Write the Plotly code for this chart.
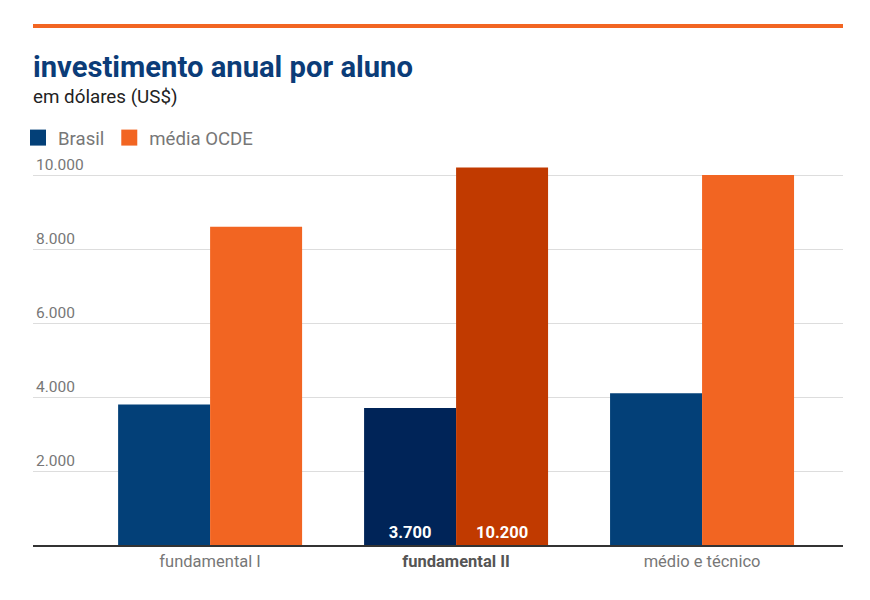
import plotly.graph_objects as go

categories = ["fundamental I", "fundamental II", "médio e técnico"]
brasil = [3800, 3700, 4100]
ocde = [8600, 10200, 10000]
tick_vals = [2000, 4000, 6000, 8000, 10000]
tick_text = ["2.000", "4.000", "6.000", "8.000", "10.000"]
bar_text_brasil = ["", "3.700", ""]
bar_text_ocde = ["", "10.200", ""]

brasil_colors = ["#034078", "#002458", "#034078"]
ocde_colors = ["#f26522", "#c13a00", "#f26522"]

xpos = list(range(len(categories)))
cat_labels = [
    "fundamental I",
    "<span style='color:#555'><b>fundamental II</b></span>",
    "médio e técnico",
]

fig = go.Figure()
fig.add_trace(go.Bar(
    x=xpos, y=brasil, name="Brasil", showlegend=False, legendgroup="b",
    marker=dict(color=brasil_colors, line=dict(width=0)),
    text=bar_text_brasil, textposition="inside", insidetextanchor="start",
    textangle=0,
    textfont=dict(color="white", size=16.5, family="Roboto", weight="bold"),
))
fig.add_trace(go.Bar(
    x=xpos, y=ocde, name="média OCDE", showlegend=False, legendgroup="o",
    marker=dict(color=ocde_colors, line=dict(width=0)),
    text=bar_text_ocde, textposition="inside", insidetextanchor="start",
    textangle=0,
    textfont=dict(color="white", size=16.5, family="Roboto", weight="bold"),
))
# legend proxies (square swatches)
fig.add_trace(go.Scatter(x=[None], y=[None], mode="markers", name="Brasil", legendgroup="b",
                         marker=dict(symbol="square", size=16, color="#034078")))
fig.add_trace(go.Scatter(x=[None], y=[None], mode="markers", name="média OCDE", legendgroup="o",
                         marker=dict(symbol="square", size=16, color="#f26522")))

OFF = 8.0  # page body offset
TOP = 145.0
BOT = 545.0
PH = BOT - TOP
def py(pix):
    return (BOT - pix) / PH

fig.update_layout(
    width=870, height=600,
    margin=dict(l=33 - OFF, r=870 - 843 + OFF, t=TOP - OFF, b=600 - BOT + OFF, autoexpand=False),
    paper_bgcolor="white", plot_bgcolor="white",
    font=dict(family="Roboto", color="#777"),
    barmode="group", bargap=0.252, bargroupgap=0,
    showlegend=True,
    legend=dict(orientation="h", xref="container", x=(18 - OFF) / 870, xanchor="left",
                y=py(138), yanchor="middle",
                font=dict(size=18.6, color="#777"), itemwidth=30,
                traceorder="normal"),
    xaxis=dict(
        tickvals=xpos, ticktext=cat_labels, range=[-0.72, 2.573],
        showgrid=False, zeroline=False, showline=True, linecolor="#333", linewidth=2,
        ticks="", tickfont=dict(size=16.5, color="#777"),
    ),
    yaxis=dict(
        range=[0, PH / 74 * 2000], tickvals=tick_vals, ticktext=tick_text,
        showgrid=True, gridcolor="#dddddd", gridwidth=1, zeroline=False,
        ticklabelposition="inside top", tickfont=dict(size=15.5, color="#777"),
        ticks="",
    ),
    shapes=[dict(type="line", xref="paper", yref="paper", x0=0, x1=1,
                 y0=py(26), y1=py(26), line=dict(color="#f26522", width=4))],
    annotations=[
        dict(text="<b>investimento anual por aluno</b>", xref="paper", yref="paper",
             x=-0.003, y=py(67), xanchor="left", yanchor="middle", showarrow=False,
             font=dict(size=29.2, color="#0b3c78", family="Roboto")),
        dict(text="em dólares (US$)", xref="paper", yref="paper",
             x=-0.002, y=py(97), xanchor="left", yanchor="middle", showarrow=False,
             font=dict(size=18.8, color="#222", family="Roboto")),
    ],
)

fig.write_html("out.html")
